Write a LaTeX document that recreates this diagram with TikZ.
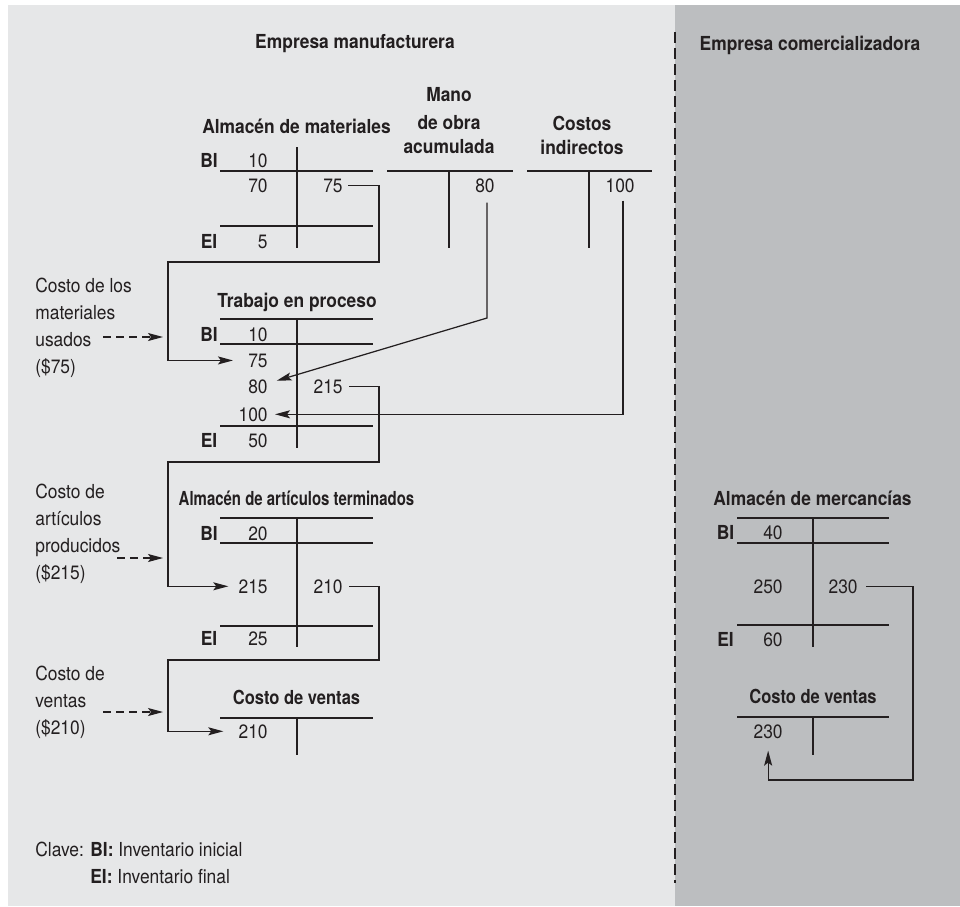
\documentclass[tikz,border=0pt]{standalone}
\usepackage{fontspec}
\setmainfont{TeX Gyre Heros}[FakeStretch=0.9]
\usetikzlibrary{arrows.meta}
\definecolor{panelA}{HTML}{E6E7E8}
\definecolor{panelB}{HTML}{BCBEC0}
\definecolor{ink}{HTML}{231F20}
\begin{document}
\begin{tikzpicture}[line cap=butt, line join=miter, color=ink,
    font=\fontsize{11}{15.4}\selectfont,
    ttl/.style={font=\fontsize{11}{15.4}\selectfont\bfseries, anchor=base, inner sep=0pt},
    ttlm/.style={font=\fontsize{11}{13.6}\selectfont\bfseries, align=center, anchor=north, inner sep=0pt},
    tag/.style={font=\fontsize{11}{15.4}\selectfont\bfseries, anchor=base, inner sep=0pt},
    num/.style={anchor=base east, inner sep=0pt},
    lbl/.style={align=left, anchor=north west, inner sep=0pt},
    key/.style={anchor=base west, inner sep=0pt},
    tline/.style={line width=0.7pt},
    flow/.style={line width=0.7pt, -{Stealth[length=0.3cm, width=0.16cm, inset=0.06cm]}},
    hint/.style={line width=0.6pt, dash pattern=on 0.16cm off 0.10cm,
      -{Stealth[length=0.3cm, width=0.16cm, inset=0.06cm]}}]
  \useasboundingbox (0,0) rectangle (19.20,-18.12);
  \fill[white] (0,0) rectangle (19.20,-18.12);
  \fill[panelA] (0.16,-0.10) rectangle (19.20,-18.12);
  \fill[panelB] (13.50,-0.10) rectangle (19.20,-18.12);
  \draw[line width=0.8pt, dash pattern=on 0.22cm off 0.10cm] (13.50,-0.64) -- (13.50,-17.66);
  \node[ttl] (mfg) at (7.10,-0.96) {Empresa manufacturera};
  \node[ttl] (com) at (16.20,-1.00) {Empresa comercializadora};
  % Almacen de materiales
  \node[ttl] (amt) at (5.93,-2.66) {Almacén de materiales};
  \draw[tline] (4.40,-3.42) -- (7.46,-3.42);
  \draw[tline] (4.40,-4.52) -- (7.46,-4.52);
  \draw[tline] (5.94,-2.94) -- (5.94,-4.96);
  \node[tag] (ambi) at (4.18,-3.34) {BI};
  \node[tag] (amei) at (4.18,-4.96) {EI};
  \node[num] (am10) at (5.36,-3.34) {10};
  \node[num] (am70) at (5.36,-3.84) {70};
  \node[num] (am75) at (6.86,-3.84) {75};
  \node[num] (am5) at (5.36,-4.96) {5};
  % Mano de obra acumulada
  \node[ttlm] (mot) at (8.98,-1.74) {Mano\\[2.3pt]de obra\\acumulada};
  \draw[tline] (7.74,-3.42) -- (10.26,-3.42);
  \draw[tline] (8.98,-3.42) -- (8.98,-4.96);
  \node[num] (mo80) at (9.90,-3.84) {80};
  % Costos indirectos
  \node[ttlm] (cit) at (11.64,-2.32) {Costos\\indirectos};
  \draw[tline] (10.54,-3.42) -- (13.04,-3.42);
  \draw[tline] (11.78,-3.42) -- (11.78,-4.96);
  \node[num] (ci100) at (12.70,-3.84) {100};
  % Trabajo en proceso
  \node[ttl] (tpt) at (5.94,-6.14) {Trabajo en proceso};
  \draw[tline] (4.40,-6.38) -- (7.46,-6.38);
  \draw[tline] (4.40,-6.88) -- (7.46,-6.88);
  \draw[tline] (4.40,-8.52) -- (7.46,-8.52);
  \draw[tline] (5.94,-6.38) -- (5.94,-8.96);
  \node[tag] (tpbi) at (4.18,-6.82) {BI};
  \node[tag] (tpei) at (4.18,-8.94) {EI};
  \node[num] (tp10) at (5.36,-6.82) {10};
  \node[num] (tp75) at (5.36,-7.34) {75};
  \node[num] (tp80) at (5.36,-7.86) {80};
  \node[num] (tp215) at (6.86,-7.86) {215};
  \node[num] (tp100) at (5.36,-8.42) {100};
  \node[num] (tp50) at (5.36,-8.94) {50};
  % Almacen de articulos terminados
  \node[ttl] (att) at (5.93,-10.10) {\scalebox{0.86}[1]{Almacén de artículos terminados}};
  \draw[tline] (4.40,-10.36) -- (7.46,-10.36);
  \draw[tline] (4.40,-10.86) -- (7.46,-10.86);
  \draw[tline] (4.40,-12.52) -- (7.46,-12.52);
  \draw[tline] (5.94,-10.36) -- (5.94,-12.94);
  \node[tag] (atbi) at (4.18,-10.80) {BI};
  \node[tag] (atei) at (4.18,-12.90) {EI};
  \node[num] (at20) at (5.36,-10.80) {20};
  \node[num] (at215) at (5.36,-11.86) {215};
  \node[num] (at210) at (6.86,-11.86) {210};
  \node[num] (at25) at (5.36,-12.90) {25};
  % Costo de ventas
  \node[ttl] (cvt) at (5.93,-14.08) {\scalebox{0.95}[1]{Costo de ventas}};
  \draw[tline] (4.40,-14.36) -- (7.46,-14.36);
  \draw[tline] (5.94,-14.36) -- (5.94,-15.10);
  \node[num] (cv210) at (5.36,-14.76) {210};
  % Almacen de mercancias
  \node[ttl] (met) at (16.25,-10.10) {Almacén de mercancías};
  \draw[tline] (14.74,-10.36) -- (17.78,-10.36);
  \draw[tline] (14.74,-10.86) -- (17.78,-10.86);
  \draw[tline] (14.74,-12.50) -- (17.78,-12.50);
  \draw[tline] (16.26,-10.36) -- (16.26,-12.94);
  \node[tag] (mebi) at (14.51,-10.78) {BI};
  \node[tag] (meei) at (14.51,-12.92) {EI};
  \node[num] (me40) at (15.66,-10.78) {40};
  \node[num] (me250) at (15.66,-11.86) {250};
  \node[num] (me230) at (17.16,-11.86) {230};
  \node[num] (me60) at (15.66,-12.92) {60};
  \node[ttl] (crt) at (16.26,-14.06) {\scalebox{0.95}[1]{Costo de ventas}};
  \draw[tline] (14.74,-14.34) -- (17.78,-14.34);
  \draw[tline] (16.26,-14.34) -- (16.26,-15.10);
  \node[num] (cr230) at (15.66,-14.76) {230};
  % side notes
  \node[lbl] (lbl1) at (0.70,-5.56) {Costo de los\\materiales\\usados\\(\$75)};
  \node[lbl] (lbl2) at (0.70,-9.68) {Costo de\\artículos\\producidos\\(\$215)};
  \node[lbl] (lbl3) at (0.70,-13.32) {Costo de\\ventas\\(\$210)};
  \node[key] (clave) at (0.70,-17.12) {Clave:};
  \node[key] (keybi) at (1.80,-17.12) {\textbf{BI:} Inventario inicial};
  \node[key] (keyei) at (1.80,-17.66) {\textbf{EI:} Inventario final};
  \coordinate (d1a) at (2.06,-6.74);
  \coordinate (d1b) at (3.26,-6.74);
  \coordinate (d2a) at (2.34,-11.16);
  \coordinate (d2b) at (3.26,-11.16);
  \coordinate (d3a) at (2.06,-14.24);
  \coordinate (d3b) at (3.26,-14.24);
  \draw[hint] (d1a) -- (d1b);
  \draw[hint] (d2a) -- (d2b);
  \draw[hint] (d3a) -- (d3b);
  % flows
  \coordinate (r1) at (7.58,-5.24);
  \coordinate (l1) at (3.36,-5.24);
  \coordinate (k1) at (9.74,-6.36);
  \coordinate (r2) at (7.58,-9.24);
  \coordinate (l2) at (3.36,-9.24);
  \coordinate (r3) at (7.58,-13.20);
  \coordinate (l3) at (3.36,-13.20);
  \coordinate (r4) at (18.26,-15.60);
  \draw[flow, shorten <=0.1cm, shorten >=0.3cm] (am75) -| (r1) -- (l1) |- (tp75);
  \draw[flow, shorten <=0.2cm, shorten >=0.18cm] ([xshift=-0.16cm]mo80.south east) -- (k1) -- (tp80);
  \draw[flow, shorten <=0.16cm, shorten >=0.14cm] ([xshift=-0.24cm]ci100.south east) |- (tp100);
  \draw[flow, shorten <=0.12cm, shorten >=0.2cm] (tp215) -| (r2) -- (l2) |- (at215);
  \draw[flow, shorten <=0.12cm, shorten >=0.3cm] (at210) -| (r3) -- (l3) |- (cv210);
  \draw[flow, shorten <=0.16cm, shorten >=0.24cm] (me230) -| (r4) -| (cr230);
\end{tikzpicture}
\end{document}
